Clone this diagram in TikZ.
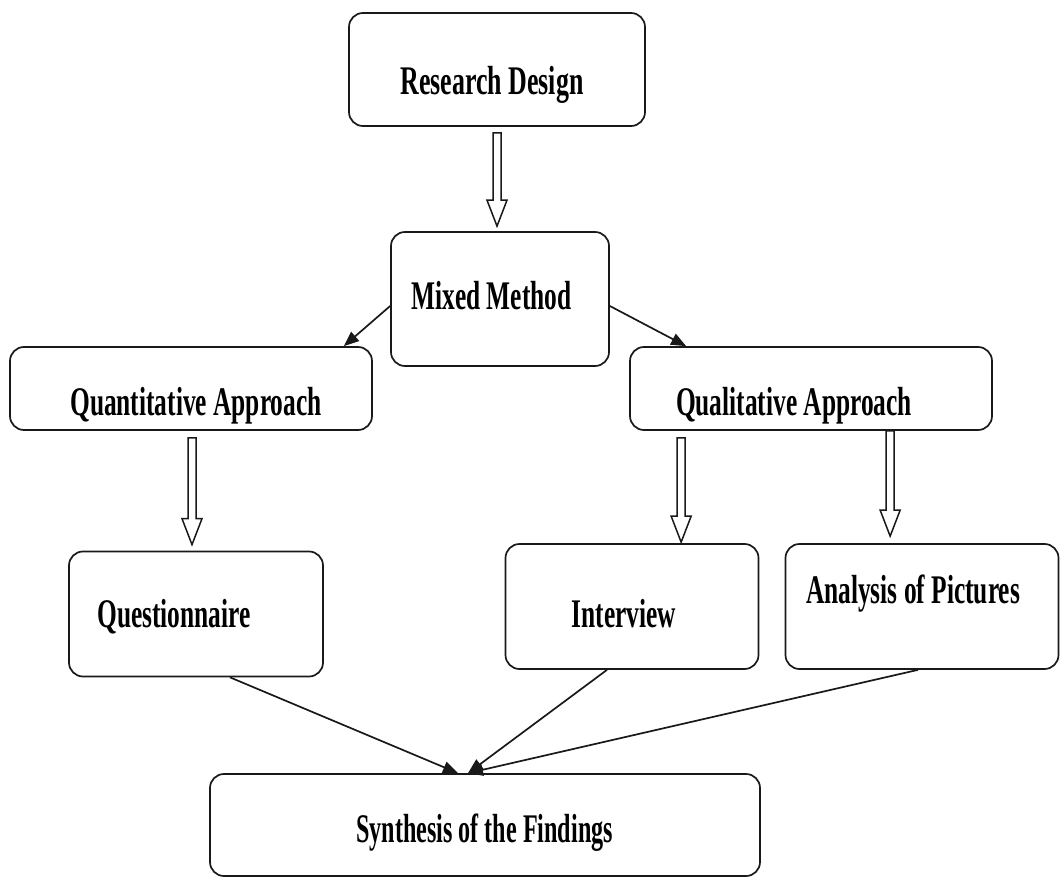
\documentclass[tikz,border=0pt]{standalone}
\usepackage{fontspec}
\setmainfont{Liberation Serif}
\usepackage{graphicx}
\usetikzlibrary{arrows.meta,calc}
\newcommand{\tallt}[2][1]{\scalebox{#1}[1.6]{#2}}
\tikzset{
  box/.style={draw=black!90, line width=1.7pt, rounded corners=14pt, fill=white, inner sep=0pt},
  lbl/.style={anchor=base, inner sep=0pt, font=\bfseries\fontsize{25.4}{30}\selectfont},
  conn/.style={draw=black!90, line width=1.7pt, -{Triangle[length=15pt,width=12pt]}},
  hollow/.style={draw=black!90, line width=1.5pt, fill=white, line join=miter}
}
% hollow block arrow from point #1 to point #2 (vertical)
\newcommand{\hollowarrow}[2]{%
  \draw[hollow] let \p1=#1, \p2=#2 in
    (\x1-4pt,\y1) -- (\x1+4pt,\y1) -- (\x1+4pt,\y2+26pt) -- (\x1+10pt,\y2+26pt)
    -- (\x1,\y2) -- (\x1-10pt,\y2+26pt) -- (\x1-4pt,\y2+26pt) -- cycle;}
\begin{document}
\begin{tikzpicture}[x=1pt,y=-1pt]
\useasboundingbox (0,0) rectangle (1060,877);
% boxes
\node[box, minimum width=296pt, minimum height=113pt] (rd) at (497,69.5) {};
\node[box, minimum width=218pt, minimum height=134pt] (mm) at (500,299) {};
\node[box, minimum width=362pt, minimum height=83pt] (qa) at (191,388.5) {};
\node[box, minimum width=362pt, minimum height=83pt] (ql) at (811,388.5) {};
\node[box, minimum width=254pt, minimum height=125pt] (qn) at (196,614) {};
\node[box, minimum width=253pt, minimum height=125pt] (iv) at (632,606.5) {};
\node[box, minimum width=273pt, minimum height=125pt] (ap) at (922,606.5) {};
\node[box, minimum width=550pt, minimum height=102pt] (sy) at (485,825) {};
% labels
\node[lbl] (rdt) at (492,95) {\tallt[1.02]{Research Design}};
\node[lbl] (mmt) at (491.5,309) {\tallt{Mixed Method}};
\node[lbl] (qat) at (196,415) {\tallt{Quantitative Approach}};
\node[lbl] (qlt) at (794,415) {\tallt{Qualitative Approach}};
\node[lbl] (qnt) at (174,627) {\tallt{Questionnaire}};
\node[lbl] (ivt) at (624,627) {\tallt{Interview}};
\node[lbl] (apt) at (913,603) {\tallt{Analysis of Pictures}};
\node[lbl] (syt) at (484.5,842) {\tallt[0.95]{Synthesis of the Findings}};
% hollow arrows
\coordinate (h1s) at ($(rd.south)+(0,6)$);
\coordinate (h1e) at ($(mm.north)+(-3,-5)$);
\hollowarrow{(h1s)}{(h1e)}
\coordinate (h2s) at ($(qa.south)+(1,7)$);
\coordinate (h2e) at ($(qn.north)+(-5,-6)$);
\hollowarrow{(h2s)}{(h2e)}
\coordinate (h3s) at ($(ql.south west)+(52,7)$);
\coordinate (h3e) at ($(iv.north west)+(176,-1)$);
\hollowarrow{(h3s)}{(h3e)}
\coordinate (h4s) at ($(ql.south west)+(261,0)$);
\coordinate (h4e) at ($(ap.north west)+(105,-7)$);
\hollowarrow{(h4s)}{(h4e)}
% connectors
\coordinate (c1s) at ($(mm.west)+(0,7)$);
\coordinate (c1e) at ($(qa.north east)+(-29,0)$);
\draw[conn] (c1s) -- (c1e);
\coordinate (c2s) at ($(mm.east)+(0,7)$);
\coordinate (c2e) at ($(ql.north west)+(57,0)$);
\draw[conn] (c2s) -- (c2e);
\coordinate (t1) at ($(sy.north)+(-27,0)$);
\coordinate (t2) at ($(sy.north)+(-17,0)$);
\coordinate (c3s) at ($(qn.south)+(34,0)$);
\coordinate (c4s) at ($(iv.south)+(-25,0)$);
\coordinate (c5s) at ($(ap.south)+(-4,0)$);
\draw[conn] (c3s) -- (t1);
\draw[conn] (c4s) -- (t2);
\draw[conn] (c5s) -- (t2);
\end{tikzpicture}
\end{document}
